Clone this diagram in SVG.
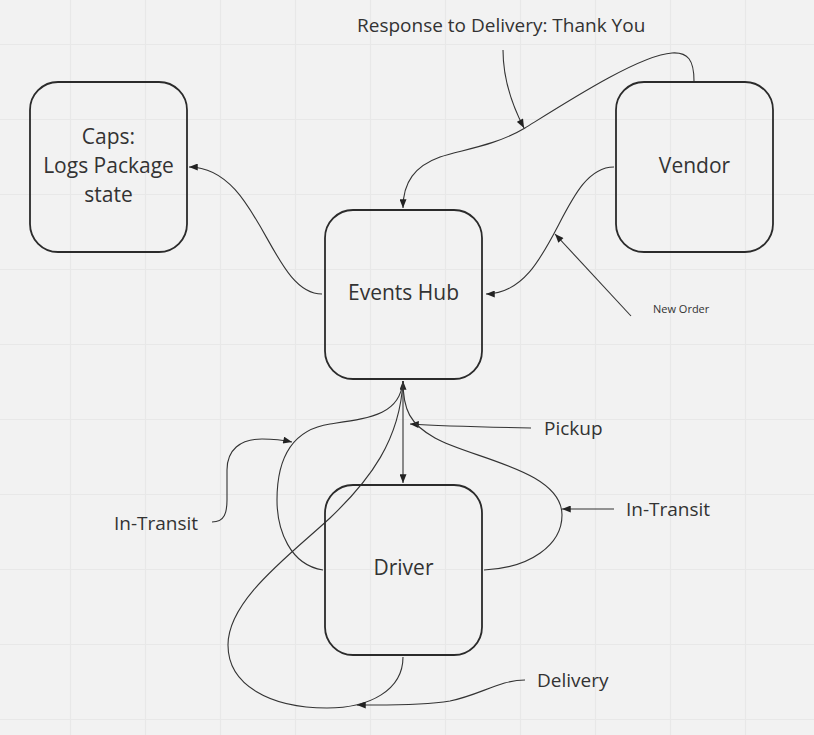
<svg xmlns="http://www.w3.org/2000/svg" width="814" height="735" viewBox="0 0 814 735">
<defs>
<style>
.node rect{fill:none;stroke:#2b2b2b;stroke-width:1.8}
.node text{font-family:"Open Sans","Noto Sans",sans-serif;font-size:21px;fill:#333;text-anchor:middle}
.lbl{font-family:"Open Sans","Noto Sans",sans-serif;font-size:19px;fill:#333}
.small{font-size:11px}
#connectors path{fill:none;stroke:#333;stroke-width:1.1}
.grid line{stroke:#e8e8e8;stroke-width:1.2}
</style>
<marker id="ah" viewBox="0 0 10 8" refX="10" refY="4" markerWidth="11" markerHeight="7" markerUnits="userSpaceOnUse" orient="auto">
<path d="M0,0 L10,4 L0,8 Z" fill="#222"/>
</marker>
<marker id="ahs" viewBox="0 0 10 8" refX="0" refY="4" markerWidth="11" markerHeight="7" markerUnits="userSpaceOnUse" orient="auto">
<path d="M10,0 L0,4 L10,8 Z" fill="#222"/>
</marker>
</defs>
<rect width="814" height="735" fill="#f2f2f2"/>
<g class="grid">
<line x1="70.5" y1="0" x2="70.5" y2="735"/>
<line x1="145.5" y1="0" x2="145.5" y2="735"/>
<line x1="220.5" y1="0" x2="220.5" y2="735"/>
<line x1="295.5" y1="0" x2="295.5" y2="735"/>
<line x1="370.5" y1="0" x2="370.5" y2="735"/>
<line x1="445.5" y1="0" x2="445.5" y2="735"/>
<line x1="520.5" y1="0" x2="520.5" y2="735"/>
<line x1="595.5" y1="0" x2="595.5" y2="735"/>
<line x1="670.5" y1="0" x2="670.5" y2="735"/>
<line x1="745.5" y1="0" x2="745.5" y2="735"/>
<line x1="0" y1="44.5" x2="814" y2="44.5"/>
<line x1="0" y1="119.5" x2="814" y2="119.5"/>
<line x1="0" y1="194.5" x2="814" y2="194.5"/>
<line x1="0" y1="269.5" x2="814" y2="269.5"/>
<line x1="0" y1="344.5" x2="814" y2="344.5"/>
<line x1="0" y1="419.5" x2="814" y2="419.5"/>
<line x1="0" y1="494.5" x2="814" y2="494.5"/>
<line x1="0" y1="569.5" x2="814" y2="569.5"/>
<line x1="0" y1="644.5" x2="814" y2="644.5"/>
<line x1="0" y1="719.5" x2="814" y2="719.5"/>
</g>
<g id="connectors">
<path d="M322,294 C270,294 260,167 189,167" marker-end="url(#ah)"/>
<path d="M694,81 C694,60 688,52 672,53 C640,55 570,100 525,128 C495,146 460,150 440,157 C415,166 403,182 403,208" marker-end="url(#ah)"/>
<path d="M503,50 C503,80 512,105 524,128" marker-end="url(#ah)"/>
<path d="M614,167 C560,167 555,294 486,294" marker-end="url(#ah)"/>
<path d="M631,316 L555,234" marker-end="url(#ah)"/>
<path d="M403,381 L403,483" marker-start="url(#ahs)" marker-end="url(#ah)"/>
<path d="M531,428 C480,427 440,426 410,424" marker-end="url(#ah)"/>
<path d="M484,570 C530,568 562,545 562,515 C562,470 470,458 435,438 C410,424 403,410 403,381"/>
<path d="M614,509 L562,509" marker-end="url(#ah)"/>
<path d="M323,570 C290,565 277,530 277,500 C277,460 290,430 330,424 C370,418 400,415 403,381"/>
<path d="M212,522 C225,522 227,512 227,500 L227,470 C227,450 240,439 262,439 C275,439 283,440 292,442" marker-end="url(#ah)"/>
<path d="M403,657 C403,690 370,708 327,708 C270,708 228,685 228,645 C228,600 290,555 330,518 C370,480 400,440 403,381"/>
<path d="M525,680 C500,680 480,695 450,701 C420,706 380,705 357,705" marker-end="url(#ah)"/>
</g>
<g id="caps" class="node">
<rect x="30" y="82" width="157" height="170" rx="28"/>
<text x="108.5" y="144">Caps:</text>
<text x="108.5" y="173">Logs Package</text>
<text x="108.5" y="202">state</text>
</g>
<g id="hub" class="node">
<rect x="325" y="210" width="157" height="169" rx="28"/>
<text x="403.5" y="300">Events Hub</text>
</g>
<g id="vendor" class="node">
<rect x="616" y="82" width="157" height="170" rx="28"/>
<text x="694.5" y="173">Vendor</text>
</g>
<g id="driver" class="node">
<rect x="325" y="485" width="157" height="170" rx="28"/>
<text x="403.5" y="575">Driver</text>
</g>
<g id="labels">
<text class="lbl" x="357" y="32">Response to Delivery: Thank You</text>
<text class="lbl small" x="653" y="313">New Order</text>
<text class="lbl" x="544" y="435">Pickup</text>
<text class="lbl" x="626" y="516">In-Transit</text>
<text class="lbl" x="114" y="530">In-Transit</text>
<text class="lbl" x="537" y="687">Delivery</text>
</g>
</svg>
